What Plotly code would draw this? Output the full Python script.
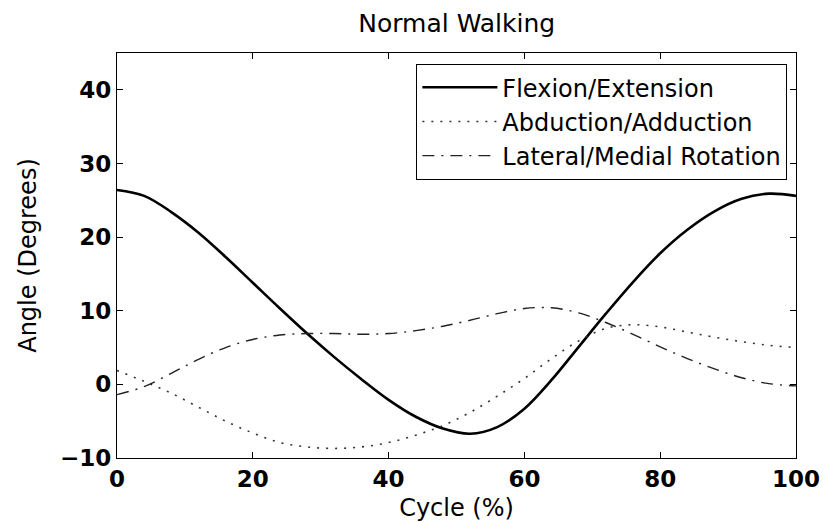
import plotly.graph_objects as go

cycle = [0, 4, 8, 12, 16, 20, 24, 28, 32, 36, 40, 44, 48, 52, 56, 60, 64, 68, 72, 76, 80, 84, 88, 92, 96, 100]
flexion = [26.4, 25.6, 23.4, 20.6, 17.3, 13.8, 10.3, 6.9, 3.7, 0.7, -2.1, -4.4, -6.0, -6.7, -5.8, -3.3,
           0.6, 5.1, 9.6, 13.9, 17.8, 21.0, 23.5, 25.2, 25.9, 25.6]
abduction = [1.9, 0.4, -1.2, -3.1, -5.0, -6.6, -7.9, -8.5, -8.7, -8.5, -7.9, -6.9, -5.6, -3.8, -1.6, 0.8,
             3.5, 5.9, 7.6, 8.1, 7.8, 7.1, 6.4, 5.8, 5.3, 5.0]
rotation = [-1.4, -0.3, 1.5, 3.4, 5.0, 6.1, 6.7, 6.9, 6.9, 6.8, 6.9, 7.3, 7.9, 8.7, 9.6, 10.3,
            10.4, 9.7, 8.4, 6.8, 5.1, 3.5, 2.1, 0.9, 0.1, -0.2]

names = ["Flexion/Extension", "Abduction/Adduction", "Lateral/Medial Rotation"]
x_ticks = [0, 20, 40, 60, 80, 100]
y_ticks = [-10, 0, 10, 20, 30, 40]

FONT = "DejaVu Sans"

fig = go.Figure()
fig.add_trace(go.Scatter(x=cycle, y=flexion, name=names[0], mode="lines",
                         line=dict(color="black", width=2.6, shape="spline", smoothing=1.0)))
fig.add_trace(go.Scatter(x=cycle, y=abduction, name=names[1], mode="lines",
                         line=dict(color="#333333", width=1.6, dash="2px,7px", shape="spline", smoothing=1.0)))
fig.add_trace(go.Scatter(x=cycle, y=rotation, name=names[2], mode="lines",
                         line=dict(color="#222222", width=1.4, dash="12px,7px,2px,7px", shape="spline", smoothing=1.0)))

axis_common = dict(
    showline=True, linecolor="black", linewidth=1.3, mirror="ticks",
    ticks="inside", ticklen=6, tickwidth=1.2, tickcolor="black",
    showgrid=False, zeroline=False, automargin=False,
    tickfont=dict(family=FONT, size=23, color="black", weight="bold"),
)

fig.update_layout(
    width=823, height=522,
    paper_bgcolor="white", plot_bgcolor="white",
    margin=dict(l=117, r=27, t=53, b=64),
    title=dict(text="Normal Walking", x=0.555, xanchor="center", y=0.955, yanchor="middle",
               font=dict(family=FONT, size=25, color="black")),
    xaxis=dict(range=[0, 100], tickvals=x_ticks,
               title=dict(text="Cycle (%)", font=dict(family=FONT, size=24, color="black"), standoff=10),
               **axis_common),
    yaxis=dict(range=[-10, 45], tickvals=y_ticks,
               title=dict(text="Angle (Degrees)", font=dict(family=FONT, size=24, color="black"), standoff=16),
               **axis_common),
    legend=dict(x=0.987, y=0.973, xanchor="right", yanchor="top",
                bgcolor="white", bordercolor="black", borderwidth=1.2,
                font=dict(family=FONT, size=24, color="black"),
                itemwidth=75, tracegroupgap=0),
    showlegend=True,
)

fig.write_html("out.html")
